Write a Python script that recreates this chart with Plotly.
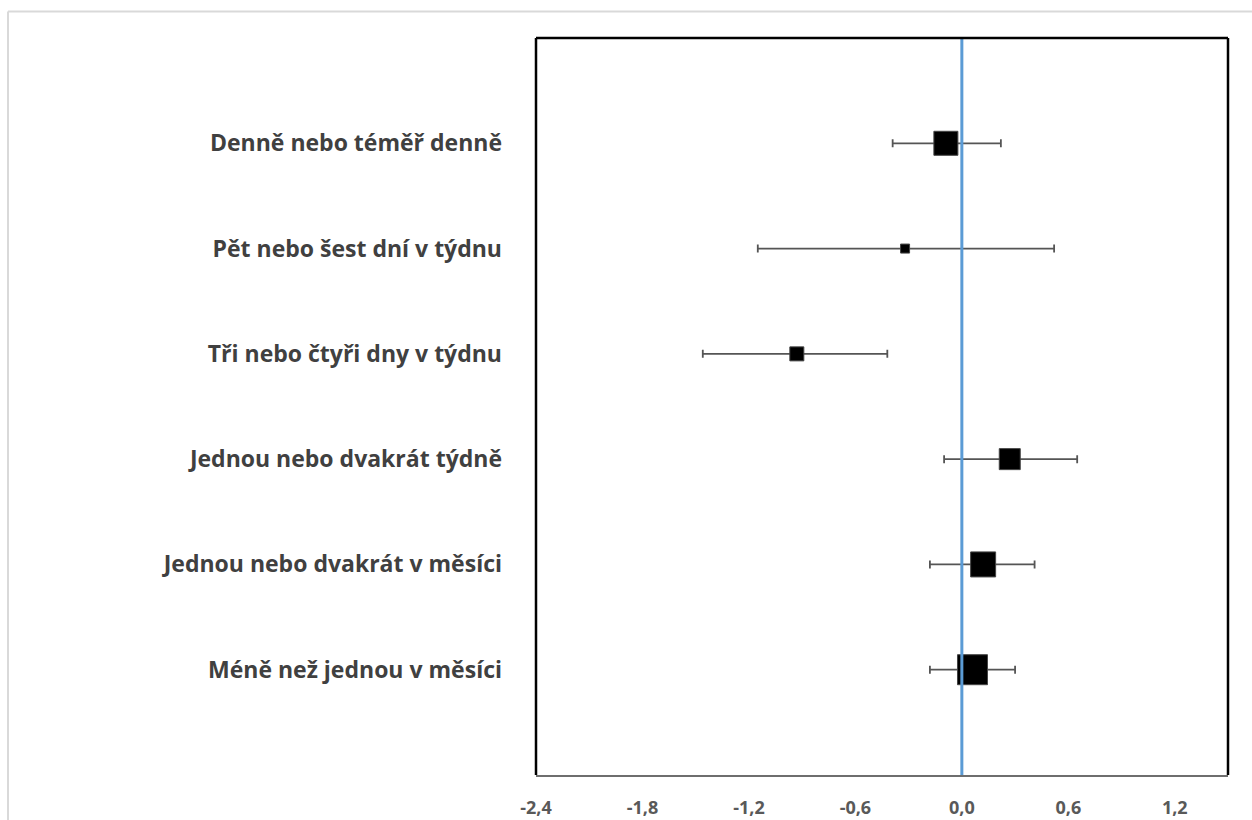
import plotly.graph_objects as go

# Categories (top to bottom) and their effect estimates with 95% CI
categories = [
    "Denně nebo téměř denně",
    "Pět nebo šest dní v týdnu",
    "Tři nebo čtyři dny v týdnu",
    "Jednou nebo dvakrát týdně",
    "Jednou nebo dvakrát v měsíci",
    "Méně než jednou v měsíci",
]
estimates = [-0.09, -0.32, -0.93, 0.27, 0.12, 0.06]
ci_low = [-0.39, -1.15, -1.46, -0.10, -0.18, -0.18]
ci_high = [0.22, 0.52, -0.42, 0.65, 0.41, 0.30]
marker_sizes = [24, 9, 14, 21, 25, 30]
x_ticks = [-2.4, -1.8, -1.2, -0.6, 0.0, 0.6, 1.2]
x_tick_labels = ["-2,4", "-1,8", "-1,2", "-0,6", "0,0", "0,6", "1,2"]

y_pos = list(range(len(categories), 0, -1))  # 6 .. 1

fig = go.Figure()

fig.add_trace(go.Scatter(
    x=estimates,
    y=y_pos,
    mode="markers",
    marker=dict(symbol="square", size=marker_sizes, color="#000000",
                opacity=1, line=dict(color="#444444", width=1)),
    error_x=dict(
        type="data", symmetric=False,
        array=[h - e for h, e in zip(ci_high, estimates)],
        arrayminus=[e - l for e, l in zip(estimates, ci_low)],
        color="#555555", thickness=1.8, width=4,
    ),
    showlegend=False,
    hoverinfo="skip",
))

# Reference line at zero
fig.add_trace(go.Scatter(
    x=[0, 0], y=[0, 7], mode="lines",
    line=dict(color="#5b9bd5", width=3),
    showlegend=False, hoverinfo="skip",
))

shapes = [
    # frame: left, top, right in black
    dict(type="line", xref="paper", yref="paper", x0=0, x1=0, y0=0, y1=1,
         line=dict(color="black", width=2.5)),
    dict(type="line", xref="paper", yref="paper", x0=0, x1=1, y0=1, y1=1,
         line=dict(color="black", width=2.5)),
    dict(type="line", xref="paper", yref="paper", x0=1, x1=1, y0=0, y1=1,
         line=dict(color="black", width=2.5)),
    # light outer border of the chart area
    dict(type="line", xref="paper", yref="paper", x0=-0.763, x1=-0.763,
         y0=-0.2, y1=1.036, line=dict(color="#d9d9d9", width=2)),
    dict(type="line", xref="paper", yref="paper", x0=-0.763, x1=1.2,
         y0=1.036, y1=1.036, line=dict(color="#d9d9d9", width=2)),
]

fig.update_layout(
    width=1252, height=820,
    margin=dict(l=536, r=24, t=38, b=45, autoexpand=False),
    paper_bgcolor="white",
    plot_bgcolor="white",
    font=dict(family="'Open Sans', sans-serif"),
    shapes=shapes,
    xaxis=dict(
        range=[-2.4, 1.5],
        tickvals=x_ticks,
        ticktext=x_tick_labels,
        showgrid=False, zeroline=False,
        showline=True, linecolor="#6e6e6e", linewidth=2,
        ticks="", ticklabelstandoff=15, automargin=False,
        tickfont=dict(size=18, color="#595959", family="Open Sans", weight="bold"),
    ),
    yaxis=dict(
        range=[0, 7],
        tickvals=y_pos,
        ticktext=categories,
        showgrid=False, zeroline=False, showline=False,
        ticks="", ticklabelstandoff=33, automargin=False,
        tickfont=dict(size=23, color="#404040", family="Open Sans", weight="bold"),
    ),
)

fig.write_html("out.html")
